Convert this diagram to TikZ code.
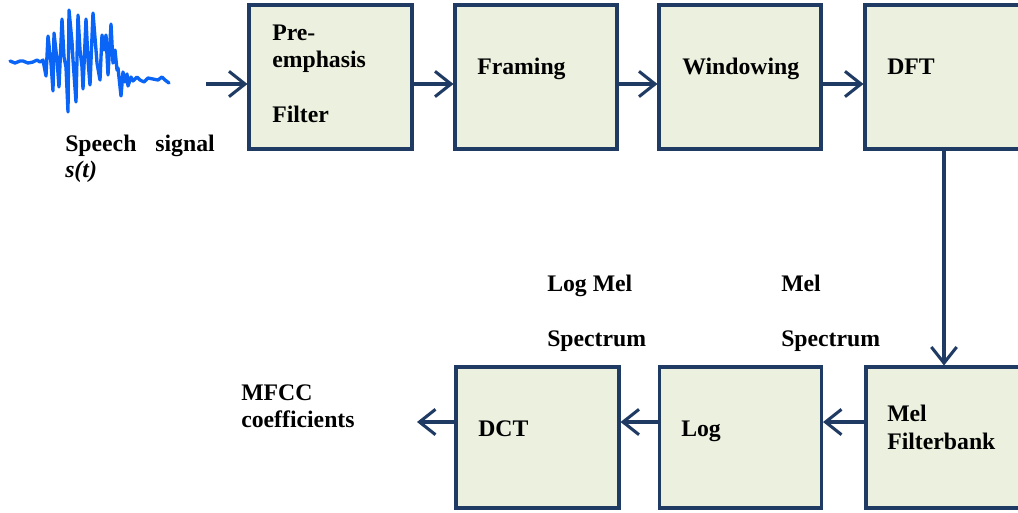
\documentclass[tikz,border=0pt]{standalone}
\usepackage{fontspec}
\setmainfont{Liberation Serif}
\usetikzlibrary{arrows.meta}
\definecolor{boxline}{HTML}{1F3B63}
\definecolor{boxfill}{HTML}{EBF1DE}
\definecolor{wave}{HTML}{0A64F5}
\tikzset{
  blockbox/.style={draw=boxline, fill=boxfill, line width=2.3pt, inner sep=0pt, minimum height=108pt},
  botbox/.style={blockbox, minimum height=105.75pt},
  arr/.style={draw=boxline, line width=2.3pt, -{Straight Barb[length=12pt,width=19pt,line width=2.3pt]}},
  lbl/.style={inner sep=0pt, anchor=base west, font=\fontsize{17.8}{20}\selectfont\bfseries},
}
\begin{document}
\begin{tikzpicture}[x=0.75pt,y=-0.75pt]
\clip (0,0) rectangle (1018,512);
\fill[white] (0,0) rectangle (1018,512);
% row coordinates
\coordinate (rowa) at (0,84);
\coordinate (rowb) at (0,422);
\coordinate (down) at (944,250);
\coordinate (sigout) at (206,84);
\coordinate (mfccin) at (417,422);
% boxes top
\node[blockbox, minimum width=122.25pt] (pre) at (330.5,77) {};
\node[blockbox, minimum width=121.5pt] (fram) at (536,77) {};
\node[blockbox, minimum width=121.5pt] (wind) at (740,77) {};
\node[blockbox, minimum width=122.25pt] (dft) at (946.5,77) {};
% boxes bottom
\node[botbox, minimum width=122.25pt] (dct) at (537.5,437.5) {};
\node[botbox, minimum width=121.5pt] (log) at (740.5,437.5) {};
\node[botbox, minimum width=122.25pt] (mel) at (947.5,437.5) {};
% labels in boxes
\node[lbl] (t1) at (272,40) {Pre-};
\node[lbl] (t2) at (272,67) {emphasis};
\node[lbl] (t3) at (272,122) {Filter};
\node[lbl] (t4) at (477,74) {Framing};
\node[lbl] (t5) at (682,74) {Windowing};
\node[lbl] (t6) at (887,74) {DFT};
\node[lbl] (t7) at (478,436) {DCT};
\node[lbl] (t8) at (681,436) {Log};
\node[lbl] (t9) at (887,421) {Mel};
\node[lbl] (t10) at (887,449) {Filterbank};
% other labels
\node[lbl] (s1) at (65,151) {Speech};
\node[lbl, anchor=base east] (s2) at (215,151) {signal};
\node[lbl] (s3) at (65,177) {\itshape s(t)};
\node[lbl] (m1) at (241,400) {MFCC};
\node[lbl] (m2) at (241,427) {coefficients};
\node[lbl] (l1) at (547,291) {Log Mel};
\node[lbl] (l2) at (547,346) {Spectrum};
\node[lbl] (k1) at (781,291) {Mel};
\node[lbl] (k2) at (781,346) {Spectrum};
% arrows
\draw[arr] (sigout) -- (pre.west |- rowa);
\draw[arr] (pre.east |- rowa) -- (fram.west |- rowa);
\draw[arr] (fram.east |- rowa) -- (wind.west |- rowa);
\draw[arr] (wind.east |- rowa) -- (dft.west |- rowa);
\draw[arr] (dft.south -| down) -- (mel.north -| down);
\draw[arr] (mel.west |- rowb) -- (log.east |- rowb);
\draw[arr] (log.west |- rowb) -- (dct.east |- rowb);
\draw[arr] (dct.west |- rowb) -- (mfccin);
% waveform
\draw[wave, line width=2.5pt, line join=round, line cap=round]
 (10,61) -- (15,63) -- (20,61) -- (23,61) -- (28,63) -- (33,62) -- (37,60) -- (40,62) -- (43,60)
 -- (46,76) -- (48,36) -- (51,63) -- (53,91) -- (54,33) -- (57,60) -- (59,87) -- (62,19) -- (64,57)
 -- (66,67) -- (68,112) -- (69,10) -- (72,42) -- (73,60) -- (76,102) -- (78,15) -- (80,50) -- (82,67)
 -- (83,89) -- (86,19) -- (88,60) -- (90,85) -- (93,13) -- (96,50) -- (97,63) -- (100,80) -- (102,35)
 -- (104,50) -- (106,35) -- (108,75) -- (111,24) -- (113,63) -- (115,50) -- (117,70) -- (118,68)
 -- (121,96) -- (123,72) -- (125,82) -- (127,74) -- (128,86) -- (131,77) -- (133,81) -- (137,77)
 -- (140,80) -- (144,82) -- (148,78) -- (153,79) -- (158,80) -- (162,77) -- (165,80) -- (169,83);
\end{tikzpicture}
\end{document}
